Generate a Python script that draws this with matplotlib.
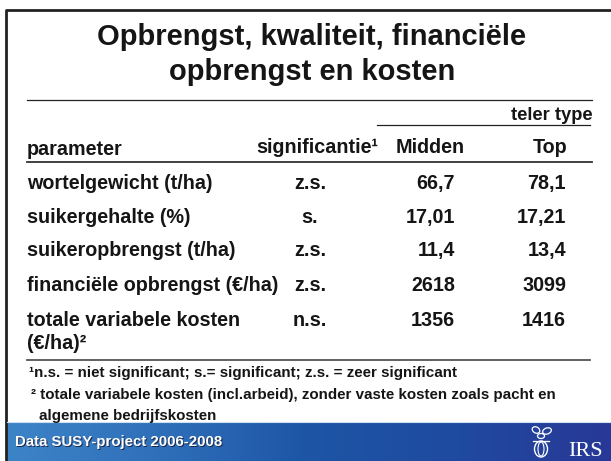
import numpy as np
import matplotlib.pyplot as plt
from matplotlib.colors import LinearSegmentedColormap
from matplotlib.patches import Ellipse

title_lines = ["Opbrengst, kwaliteit, financiële", "opbrengst en kosten"]
group_label = "teler type"
header = ["parameter", "significantie¹", "Midden", "Top"]

parameters = [
    "wortelgewicht (t/ha)",
    "suikergehalte (%)",
    "suikeropbrengst (t/ha)",
    "financiële opbrengst (€/ha)",
    "totale variabele kosten\n(€/ha)²",
]
significance = ["z.s.", "s.", "z.s.", "z.s.", "n.s."]
midden = ["66,7", "17,01", "11,4", "2618", "1356"]
top = ["78,1", "17,21", "13,4", "3099", "1416"]

footnotes = [
    "¹n.s. = niet significant; s.= significant; z.s. = zeer significant",
    "² totale variabele kosten (incl.arbeid), zonder vaste kosten zoals pacht en",
    "algemene bedrijfskosten",
]
source = "Data SUSY-project 2006-2008"

plt.rcParams["font.family"] = ["Liberation Sans", "DejaVu Sans"]
txt = "#151515"
fs = 14.2

fig = plt.figure(figsize=(6.11, 4.61), dpi=100)
ax = fig.add_axes([0, 0, 1, 1])
ax.set_xlim(0, 611)
ax.set_ylim(461, 0)
ax.axis("off")

# slide frame
ax.plot([6, 6, 611], [461, 10, 10], color="#222222", lw=2.0, solid_capstyle="butt")

# title
for i, line in enumerate(title_lines):
    ax.text(312, 37 + i * 35, line, ha="center", va="center",
            fontsize=21, fontweight="bold", color=txt)
ax.plot([27, 592], [100, 100], color="#222222", lw=0.9)

# header
ax.text(552, 115, group_label, ha="center", va="center", fontsize=13.2, fontweight="bold", color=txt)
ax.plot([377, 590], [125, 125], color="#222222", lw=0.9)
ax.text(27, 149, header[0], ha="left", va="center", fontsize=fs, fontweight="bold", color=txt)
ax.text(378, 147, header[1], ha="right", va="center", fontsize=fs, fontweight="bold", color=txt)
ax.text(430, 147, header[2], ha="center", va="center", fontsize=fs, fontweight="bold", color=txt)
ax.text(567, 147, header[3], ha="right", va="center", fontsize=fs, fontweight="bold", color=txt)
ax.plot([27, 592], [162, 162], color="#333333", lw=1.3)

# rows
row_y = [183, 217, 250, 285, 320]
for y, p, s, m, t in zip(row_y, parameters, significance, midden, top):
    for j, part in enumerate(p.split("\n")):
        ax.text(27, y + j * 23, part, ha="left", va="center",
                fontsize=fs, fontweight="bold", color=txt)
    ax.text(310, y, s, ha="center", va="center", fontsize=fs, fontweight="bold", color=txt)
    ax.text(455, y, m, ha="right", va="center", fontsize=fs, fontweight="bold", color=txt)
    ax.text(566, y, t, ha="right", va="center", fontsize=fs, fontweight="bold", color=txt)
ax.plot([27, 590], [360, 360], color="#555555", lw=1.3)

# footnotes
for x, y, f in zip([29, 31, 39], [373, 395, 416], footnotes):
    ax.text(x, y, f, ha="left", va="center", fontsize=10.9, fontweight="bold", color=txt)

# blue footer band
cmap = LinearSegmentedColormap.from_list(
    "band", ["#3d84c7", "#2f6fba", "#1d55a5", "#1f4a9f", "#283896"])
grad = np.linspace(0, 1, 256).reshape(1, -1)
ax.imshow(grad, cmap=cmap, aspect="auto", extent=[7, 611, 461, 422], zorder=1)
ax.plot([7, 611], [422, 422], color="#cfe0f0", lw=0.8, zorder=2)
ax.set_xlim(0, 611)
ax.set_ylim(461, 0)

ax.text(16, 443, source, ha="left", va="center", fontsize=10.8,
        fontweight="bold", color="#1a2a50", zorder=3)
ax.text(15, 442, source, ha="left", va="center", fontsize=10.8,
        fontweight="bold", color="white", zorder=4)

# logo
ax.text(603, 456, "IRS", ha="right", va="baseline", fontsize=16,
        family="Liberation Serif", color="white", zorder=4)
for cx, cy, w, h, a in [(536, 430, 8, 6, 30), (547, 431, 9, 6, -20), (541, 436, 7, 5, 0)]:
    ax.add_patch(Ellipse((cx, cy), w, h, angle=a, fill=False, ec="white", lw=0.9, zorder=4))
ax.add_patch(Ellipse((541, 449), 13, 16, fill=False, ec="white", lw=1.0, zorder=4))
ax.add_patch(Ellipse((541, 449), 6, 14, fill=False, ec="white", lw=0.8, zorder=4))
ax.plot([533, 549], [441, 441], color="white", lw=0.9, zorder=4)

fig.savefig("out.png", dpi=100)
